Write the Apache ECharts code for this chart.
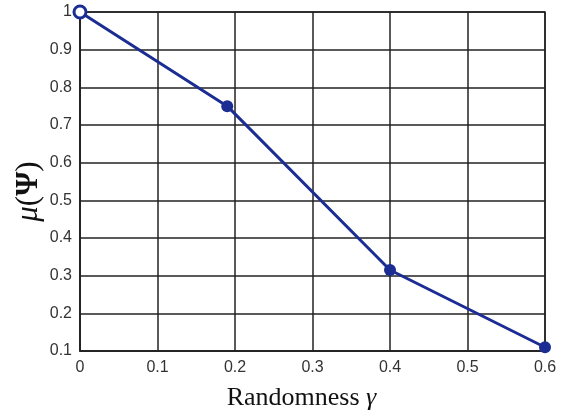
<!DOCTYPE html>
<html><head><meta charset="utf-8">
<script src="https://cdn.jsdelivr.net/npm/echarts@6/dist/echarts.min.js"></script>
<style>html,body{margin:0;padding:0;background:#fff}#c{width:562px;height:414px}</style>
</head><body><div id="c"></div>
<script>
const xValues = [0, 0.19, 0.4, 0.6];
const yValues = [1, 0.75, 0.315, 0.11];
const xTicks = [0, 0.1, 0.2, 0.3, 0.4, 0.5, 0.6];
const yTicks = [0.1, 0.2, 0.3, 0.4, 0.5, 0.6, 0.7, 0.8, 0.9, 1];

const chart = echarts.init(document.getElementById('c'));
const lineColor = '#1b2d92';
const data = xValues.map((x, i) => {
  const p = { value: [x, yValues[i]] };
  if (i === 0) p.itemStyle = { color: '#fff', borderColor: lineColor, borderWidth: 3 };
  return p;
});
chart.setOption({
  animation: false,
  grid: { left: 80, right: 17, top: 12, bottom: 63, show: true, borderColor: '#222', borderWidth: 1.5,
    outerBoundsMode: 'none', containLabel: false },
  xAxis: {
    type: 'value', min: 0, max: 0.6, interval: 0.1,
    axisLine: { show: true, lineStyle: { color: '#222', width: 1.5 } },
    axisTick: { show: false },
    splitLine: { show: true, lineStyle: { color: '#222', width: 1.5 } },
    axisLabel: { color: '#333', fontSize: 16, fontFamily: 'Liberation Sans', margin: 9,
      formatter: v => xTicks.includes(+v.toFixed(2)) ? String(+v.toFixed(2)) : '' },
    name: 'Randomness {i|γ}', nameLocation: 'middle', nameGap: 34,
    nameTextStyle: { fontFamily: 'Liberation Serif', fontSize: 26, color: '#111', padding: [0, 22, 0, 0],
      rich: { i: { fontFamily: 'Liberation Serif', fontStyle: 'italic', fontSize: 26, color: '#111' } } }
  },
  yAxis: {
    type: 'value', min: 0.1, max: 1, interval: 0.1,
    axisLine: { show: true, lineStyle: { color: '#222', width: 1.5 } },
    axisTick: { show: false },
    splitLine: { show: true, lineStyle: { color: '#222', width: 1.5 } },
    axisLabel: { color: '#333', fontSize: 16, fontFamily: 'Liberation Sans', margin: 8,
      formatter: v => { const r = +v.toFixed(2); return yTicks.includes(r) ? String(r) : ''; } },
    name: '{i|μ}{n|(}{b|Ψ}{n|)}', nameLocation: 'middle', nameGap: 36, nameRotate: 90,
    nameMoveOverlap: false,
    nameTextStyle: { fontFamily: 'Liberation Serif', fontSize: 31, color: '#111', padding: [0, 20, 0, 0],
      rich: {
        i: { fontFamily: 'Liberation Serif', fontStyle: 'italic', fontSize: 31, color: '#111' },
        n: { fontFamily: 'Liberation Serif', fontSize: 31, color: '#111' },
        b: { fontFamily: 'Liberation Serif', fontWeight: 'bold', fontSize: 31, color: '#111' }
      } }
  },
  series: [{
    type: 'line', data: data, clip: false,
    symbol: 'circle', symbolSize: 12,
    lineStyle: { color: lineColor, width: 3 },
    itemStyle: { color: lineColor }
  }]
});
</script></body></html>
